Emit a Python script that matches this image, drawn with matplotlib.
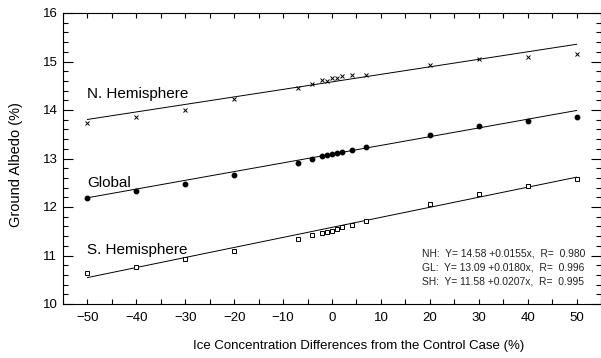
import matplotlib
matplotlib.use('Agg')
import matplotlib.pyplot as plt
import numpy as np
from matplotlib.ticker import MultipleLocator

plt.rcParams['font.family'] = ['Liberation Sans', 'DejaVu Sans']

# ice concentration differences (%)
ice_diff = [-50, -40, -30, -20, -7, -4, -2, -1, 0, 1, 2, 4, 7, 20, 30, 40, 50]

# ground albedo (%)
nh_albedo = [13.74, 13.85, 14.01, 14.23, 14.45, 14.53, 14.62, 14.60, 14.67,
             14.67, 14.71, 14.72, 14.73, 14.92, 15.06, 15.10, 15.15]
gl_albedo = [12.19, 12.32, 12.48, 12.67, 12.91, 12.98, 13.06, 13.07, 13.10,
             13.12, 13.14, 13.18, 13.23, 13.49, 13.66, 13.78, 13.86]
sh_albedo = [10.63, 10.77, 10.92, 11.09, 11.35, 11.42, 11.47, 11.48, 11.51,
             11.54, 11.58, 11.63, 11.71, 12.06, 12.26, 12.43, 12.58]

# regression coefficients (intercept, slope, R)
nh_fit = (14.58, 0.0155, 0.980)
gl_fit = (13.09, 0.0180, 0.996)
sh_fit = (11.58, 0.0207, 0.995)

fig = plt.figure(figsize=(6.01, 3.58), dpi=100)
ax = fig.add_axes([63/601, 54/358, 538/601, 291/358])

xfit = np.array([-50, 50])
for fit in (nh_fit, gl_fit, sh_fit):
    ax.plot(xfit, fit[0] + fit[1]*xfit, color='black', lw=0.7)

ax.plot(ice_diff, nh_albedo, 'x', color='black', ms=3.5, mew=0.7)
ax.plot(ice_diff, gl_albedo, 'o', color='black', ms=3.2)
ax.plot(ice_diff, sh_albedo, 's', mfc='white', mec='black', ms=3.5, mew=0.7)

ax.text(-50, 14.33, 'N. Hemisphere', fontsize=11, va='center')
ax.text(-50, 12.49, 'Global', fontsize=11, va='center')
ax.text(-50, 11.11, 'S. Hemisphere', fontsize=11, va='center')

eq_lines = []
for name, fit in (('NH', nh_fit), ('GL', gl_fit), ('SH', sh_fit)):
    eq_lines.append('%s:  Y= %.2f +%.4fx,  R=  %.3f' % (name, fit[0], fit[1], fit[2]))
for i, line in enumerate(eq_lines):
    fig.text(422/601, 1 - (253 + 14*i)/358, line, fontsize=7.4, va='center',
             color='#222222')

ax.set_xlim(-55, 55)
ax.set_ylim(10, 16)
ax.xaxis.set_major_locator(MultipleLocator(10))
ax.xaxis.set_minor_locator(MultipleLocator(5))
ax.yaxis.set_major_locator(MultipleLocator(1))
ax.yaxis.set_minor_locator(MultipleLocator(0.2))
ax.tick_params(which='both', direction='in', top=True, right=True, width=0.8)
ax.tick_params(axis='x', which='both', length=3.3, pad=6, labelsize=9.5)
ax.tick_params(axis='y', which='major', length=7, pad=4, labelsize=9.5)
ax.tick_params(axis='y', which='minor', length=3.5)
for s in ax.spines.values():
    s.set_linewidth(0.8)

ax.set_xlabel('Ice Concentration Differences from the Control Case (%)', fontsize=9.5)
ax.set_ylabel('Ground Albedo (%)', fontsize=10.5)
ax.xaxis.set_label_coords((359-63)/538, -36/291)
ax.yaxis.set_label_coords(-40/538, 0.48)

fig.savefig('out.png', dpi=100)
